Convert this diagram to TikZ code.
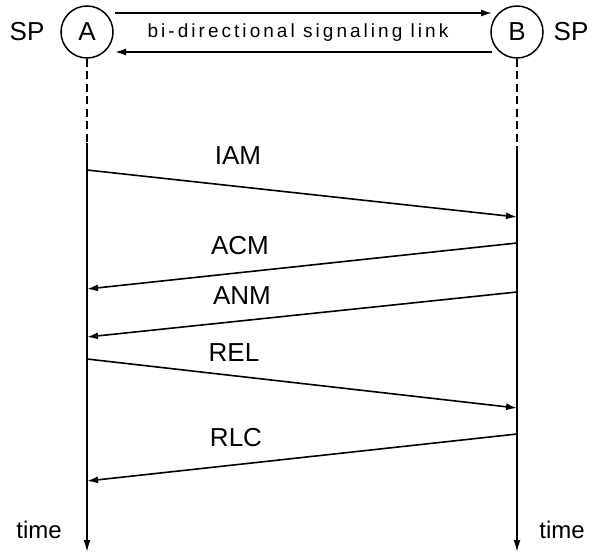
\documentclass[tikz,border=0pt]{standalone}
\usepackage{fontspec}
\setmainfont{Liberation Sans}
\usetikzlibrary{arrows.meta}

\tikzset{
  station/.style={circle, draw, line width=1.5pt, minimum size=52pt, inner sep=0pt, font=\fontsize{26}{28}\selectfont},
  msg/.style={line width=1.6pt, -{Latex[length=11pt,width=7pt]}},
  msglabel/.style={font=\fontsize{26}{28}\selectfont},
  lifeline/.style={line width=1.6pt}
}

\begin{document}
\begin{tikzpicture}[x=1pt, y=-1pt]
\useasboundingbox (0,0) rectangle (599,557);

\node [station] (A) at (87,32) {A};
\node [station] (B) at (517,32) {B};
\node [msglabel] (spA) at (27,32) {SP};
\node [msglabel] (spB) at (571,32) {SP};

% signaling link between the two points
\coordinate (linkAt) at (115,13);
\coordinate (linkBt) at (492,13);
\coordinate (linkAb) at (115,52);
\coordinate (linkBb) at (492,52);
\draw [msg] (linkAt) -- (linkBt);
\draw [msg] (linkBb) -- (linkAb);
\node [font=\fontsize{19}{21}\selectfont\addfontfeatures{LetterSpace=16}] (link) at (298,33) {bi-directional signaling link};

% time lines
\coordinate (Ad) at (87,143);
\coordinate (A1) at (87,170);
\coordinate (A2) at (87,289);
\coordinate (A3) at (87,337);
\coordinate (A4) at (87,359);
\coordinate (A5) at (87,481);
\coordinate (Aend) at (87,552);
\coordinate (Bd) at (517,152);
\coordinate (B1) at (517,217);
\coordinate (B2) at (517,243);
\coordinate (B3) at (517,292);
\coordinate (B4) at (517,408);
\coordinate (B5) at (517,434);
\coordinate (Bend) at (517,552);

\draw [lifeline, dash pattern=on 8pt off 4.5pt] (A.south) -- (Ad);
\draw [lifeline, dash pattern=on 8pt off 4.5pt] (B.south) -- (Bd);
\draw [lifeline, -{Latex[length=12pt,width=7pt]}] (Ad) -- (Aend);
\draw [lifeline, -{Latex[length=12pt,width=7pt]}] (Bd) -- (Bend);
\node [font=\fontsize{24}{26}\selectfont] (timeA) at (39,530) {time};
\node [font=\fontsize{24}{26}\selectfont] (timeB) at (562,530) {time};

% messages
\draw [msg] (A1) -- (B1);
\node [msglabel] (iam) at (238,156) {IAM};
\draw [msg] (B2) -- (A2);
\node [msglabel] (acm) at (240,246) {ACM};
\draw [msg] (B3) -- (A3);
\node [msglabel] (anm) at (242,296) {ANM};
\draw [msg] (A4) -- (B4);
\node [msglabel] (rel) at (234,353) {REL};
\draw [msg] (B5) -- (A5);
\node [msglabel] (rlc) at (236,438) {RLC};

\end{tikzpicture}
\end{document}
